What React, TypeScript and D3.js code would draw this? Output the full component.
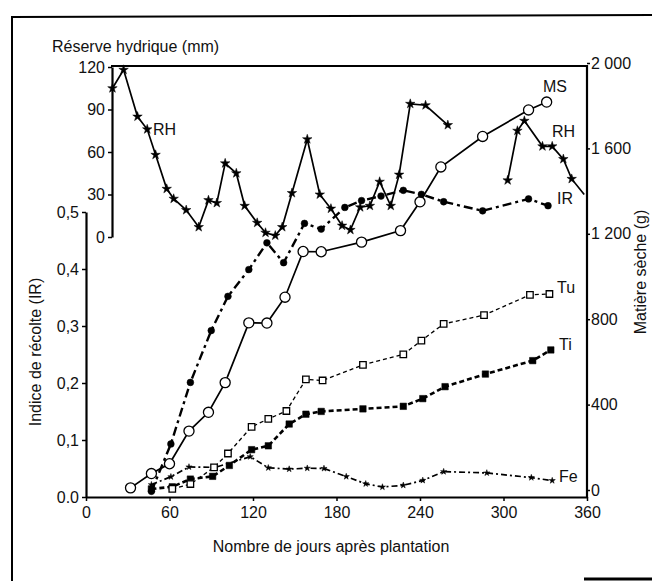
import React, { useRef, useEffect } from 'react';
import * as d3 from 'd3';

// days after planting for each series
const msDays = [32, 47, 60, 74, 88, 100, 117, 130, 143, 156, 169, 198, 226, 240, 255, 285, 318, 331];
const msValues = [10, 77, 123, 276, 364, 503, 783, 782, 903, 1117, 1116, 1161, 1215, 1350, 1513, 1656, 1780, 1817];

const irDays = [47, 61, 75, 90, 102, 117, 130, 142, 157, 169, 186, 198, 212, 228, 241, 257, 285, 318, 332];
const irValues = [0.01, 0.093, 0.201, 0.292, 0.352, 0.399, 0.446, 0.411, 0.48, 0.47, 0.508, 0.52, 0.528, 0.538, 0.531, 0.518, 0.502, 0.523, 0.511];

const tuDays = [62, 75, 92, 102, 119, 131, 144, 158, 170, 199, 228, 241, 257, 286, 319, 333];
const tuValues = [5, 28, 106, 171, 296, 333, 370, 518, 513, 586, 635, 700, 778, 819, 914, 918];

const tiDays = [47, 62, 75, 91, 103, 119, 131, 146, 158, 169, 199, 228, 242, 258, 287, 321, 334];
const tiValues = [5, 15, 51, 64, 115, 189, 207, 309, 355, 368, 380, 392, 428, 484, 543, 606, 656];

const feDays = [47, 61, 74, 93, 118, 131, 146, 159, 171, 187, 201, 213, 228, 242, 257, 288, 320, 335];
const feValues = [25, 62, 108, 106, 156, 104, 98, 102, 101, 63, 29, 14, 22, 45, 86, 80, 58, 44];

// réserve hydrique, two separate pieces of curve
const rhDays1 = [19, 27, 37, 44, 50, 58, 63, 72, 81, 88, 94, 100, 108, 114, 123, 129, 136, 141, 148, 159, 168, 176, 184, 190, 197, 204, 211, 219, 225, 233, 244, 260];
const rhValues1 = [105, 118, 85, 76, 58, 34, 27, 19, 7, 26, 24, 52, 45, 22, 10, 3, 1, 7, 31, 69, 30, 20, 8, 5, 21, 22, 39, 22, 44, 94, 93, 79];
const rhDays2 = [303, 310, 315, 328, 335, 343, 349, 358];
const rhValues2 = [40, 75, 82, 64, 64, 55, 41, 30];

const xTicks = [0, 60, 120, 180, 240, 300, 360];
const irTicks = [0, 0.1, 0.2, 0.3, 0.4, 0.5];
const rhTicks = [0, 30, 60, 90, 120];
const msTicks = [0, 400, 800, 1200, 1600, 2000];

const FONT = '"Liberation Sans", Arial, sans-serif';

const App = () => {
  const ref = useRef<SVGSVGElement>(null);

  useEffect(() => {
    const svg = d3.select(ref.current).attr('width', 652).attr('height', 581);
    svg.selectAll('*').remove();

    const x = d3.scaleLinear().domain([0, 360]).range([86, 587]);
    const yIR = d3.scaleLinear().domain([0, 0.5]).range([497, 212]);
    const yRH = d3.scaleLinear().domain([0, 120]).range([237, 67]);
    const yMS = d3.scaleLinear().domain([0, 2000]).range([490, 63]);

    // outer frame of the scanned figure
    svg.append('line').attr('x1', 12).attr('y1', 17).attr('x2', 12).attr('y2', 581)
      .attr('stroke', '#000').attr('stroke-width', 2);
    svg.append('line').attr('x1', 11).attr('y1', 17).attr('x2', 652).attr('y2', 15)
      .attr('stroke', '#000').attr('stroke-width', 2);
    svg.append('line').attr('x1', 584).attr('y1', 579).attr('x2', 652).attr('y2', 579)
      .attr('stroke', '#000').attr('stroke-width', 3);

    const styleAxis = (g) => {
      g.selectAll('path.domain').attr('stroke', '#000').attr('stroke-width', 2.2);
      g.selectAll('.tick line').attr('stroke', '#000').attr('stroke-width', 1.5);
      g.selectAll('text').attr('font-family', FONT).attr('font-size', 16).attr('fill', '#111');
    };

    // x axis
    svg.append('g')
      .attr('transform', 'translate(0,497)')
      .call(d3.axisBottom(x).tickValues(xTicks).tickSize(4).tickSizeOuter(0).tickPadding(6).tickFormat(d3.format('d')))
      .call(styleAxis);

    // harvest index axis (left)
    svg.append('g')
      .attr('transform', 'translate(86,0)')
      .call(d3.axisLeft(yIR).tickValues(irTicks).tickSize(4).tickSizeOuter(0).tickPadding(3)
        .tickFormat(d => (d === 0 ? '0.0' : d3.format('.1f')(d).replace('.', ','))))
      .call(styleAxis);

    // water reserve axis (inset, upper left)
    svg.append('g')
      .attr('transform', 'translate(112,0)')
      .call(d3.axisLeft(yRH).tickValues(rhTicks).tickSize(4).tickSizeOuter(0).tickPadding(3).tickFormat(d3.format('d')))
      .call(styleAxis);

    // dry matter axis (right)
    svg.append('line').attr('x1', 587).attr('y1', 65).attr('x2', 587).attr('y2', 498)
      .attr('stroke', '#000').attr('stroke-width', 2.2);
    svg.append('g')
      .attr('transform', 'translate(587,0)')
      .call(d3.axisRight(yMS).tickValues(msTicks).tickSize(3).tickSizeOuter(0).tickPadding(1)
        .tickFormat(d => d3.format(',')(d).replace(',', ' ')))
      .call(styleAxis)
      .call(g => g.select('path.domain').remove());

    // top edge of plot box
    svg.append('line').attr('x1', 111).attr('y1', 66).attr('x2', 588).attr('y2', 66)
      .attr('stroke', '#000').attr('stroke-width', 2.2);

    const drawSeries = (days, values, yScale, dash, width) => {
      const line = d3.line<number>().x((d, i) => x(days[i])).y(d => yScale(d));
      svg.append('path')
        .datum(values)
        .attr('d', line)
        .attr('fill', 'none')
        .attr('stroke', '#000')
        .attr('stroke-width', width)
        .attr('stroke-dasharray', dash);
    };

    const drawSymbols = (days, values, yScale, type, size, filled, skip = () => false) => {
      svg.append('g').selectAll('path')
        .data(values.map((v, i) => [days[i], v]).filter(d => !skip(d)))
        .enter().append('path')
        .attr('transform', d => `translate(${x(d[0])},${yScale(d[1])})`)
        .attr('d', d3.symbol().type(type).size(size))
        .attr('fill', filled ? '#000' : '#fff')
        .attr('stroke', '#000')
        .attr('stroke-width', filled ? 0.5 : 1.3);
    };

    // Fe
    drawSeries(feDays, feValues, yMS, '6,3,2,3', 1.7);
    drawSymbols(feDays, feValues, yMS, d3.symbolStar, 12, true);
    // Ti
    drawSeries(tiDays, tiValues, yMS, '5,3', 2.6);
    drawSymbols(tiDays, tiValues, yMS, d3.symbolSquare, 42, true);
    // Tu
    drawSeries(tuDays, tuValues, yMS, '4,3', 1.3);
    drawSymbols(tuDays, tuValues, yMS, d3.symbolSquare, 42, false);
    // MS
    drawSeries(msDays, msValues, yMS, null, 1.7);
    drawSymbols(msDays, msValues, yMS, d3.symbolCircle, 80, false);
    // IR
    drawSeries(irDays, irValues, yIR, '9,4,3,4', 2.4);
    drawSymbols(irDays, irValues, yIR, d3.symbolCircle, 36, true);
    // RH
    drawSeries(rhDays1, rhValues1, yRH, null, 1.7);
    drawSymbols(rhDays1, rhValues1, yRH, d3.symbolStar, 28, true);
    drawSeries(rhDays2, rhValues2, yRH, null, 1.7);
    drawSymbols(rhDays2, rhValues2, yRH, d3.symbolStar, 28, true, d => d[0] > 355);

    const label = (text, lx, ly, size = 16) => {
      svg.append('text').attr('x', lx).attr('y', ly).text(text)
        .attr('font-family', FONT).attr('font-size', size).attr('fill', '#111');
    };
    label('MS', 543, 92);
    label('RH', 552, 137);
    label('IR', 557, 204);
    label('RH', 153, 135);
    label('Tu', 557, 293);
    label('Ti', 559, 350);
    label('Fe', 559, 482);
    label('Réserve hydrique (mm)', 52, 52);

    svg.append('text')
      .attr('x', 331).attr('y', 552).attr('text-anchor', 'middle')
      .attr('font-family', FONT).attr('font-size', 16).attr('fill', '#111')
      .text('Nombre de jours après plantation');

    svg.append('text')
      .attr('transform', 'translate(41,352) rotate(-90)').attr('text-anchor', 'middle')
      .attr('font-family', FONT).attr('font-size', 16).attr('fill', '#111')
      .text('Indice de récolte (IR)');

    svg.append('text')
      .attr('transform', 'translate(646,272) rotate(-90)').attr('text-anchor', 'middle')
      .attr('font-family', FONT).attr('font-size', 16).attr('fill', '#111')
      .text('Matière sèche (g)');
  }, []);

  return <svg ref={ref} style={{ position: 'absolute', left: 0, top: 0, display: 'block', background: '#fff' }}></svg>;
};

export default App;
